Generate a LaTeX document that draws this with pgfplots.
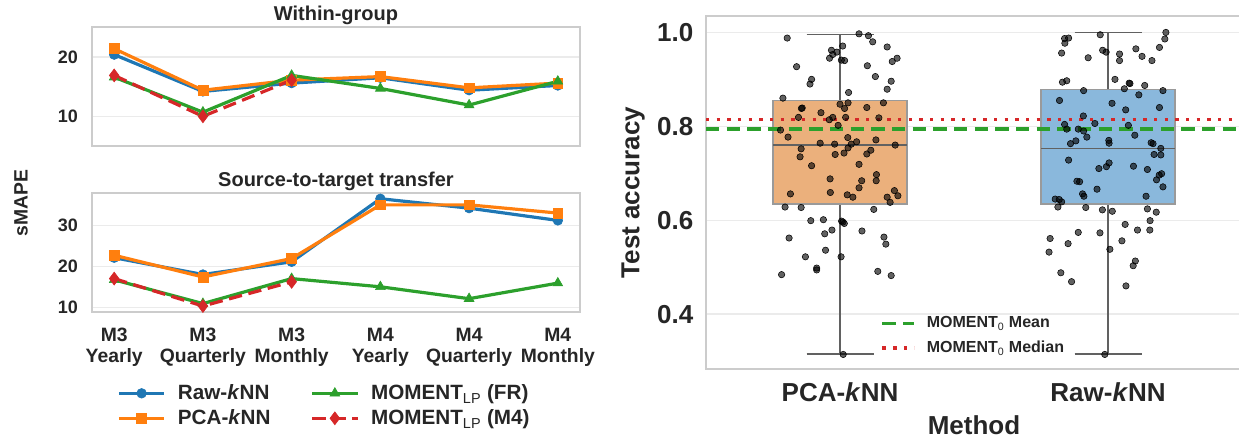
\documentclass[border=0pt]{standalone}
\usepackage{fontspec}
\setmainfont{Liberation Sans}
\usepackage{pgfplots}
\pgfplotsset{compat=1.18}
\usepgfplotslibrary{statistics}
\definecolor{tblue}{HTML}{1F77B4}
\definecolor{torange}{HTML}{FF7F0E}
\definecolor{tgreen}{HTML}{2CA02C}
\definecolor{tred}{HTML}{D62728}
\definecolor{txt}{HTML}{262626}
\definecolor{spine}{HTML}{CCCCCC}
\definecolor{gridc}{HTML}{EBEBEB}
\definecolor{boxor}{HTML}{EBB07C}
\definecolor{boxbl}{HTML}{8AB8DC}
\definecolor{boxedge}{HTML}{9A9A9A}
\definecolor{whisk}{HTML}{616161}
\pgfplotsset{
  myaxis/.style={
    scale only axis,
    axis line style={spine, line width=1.5pt},
    major tick length=0pt,
    tick style={draw=none},
    ymajorgrids,
    grid style={gridc, line width=0.9pt},
    /pgf/number format/assume math mode=true,
    tick label style={text=txt},
    scaled y ticks=false,
  },
  leftax/.style={
    myaxis,
    width=366pt, height=89.25pt,
    xmin=-0.25, xmax=5.25,
    xtick={0,...,5},
    yticklabel style={font=\bfseries\fontsize{13.5}{16}\selectfont, xshift=-7pt},
    every axis title/.style={at={(0.5,1)}, anchor=base, yshift=5pt, font=\bfseries\fontsize{15}{18}\selectfont, text=txt},
  },
  rawst/.style={tblue, line width=2.4pt, mark=*, mark size=3.6pt, mark options={solid, fill=tblue, draw=tblue, line width=0.5pt}},
  pcast/.style={torange, line width=2.4pt, mark=square*, mark size=3.7pt, mark options={solid, fill=torange, draw=torange, line width=0.5pt}},
  frst/.style={tgreen, line width=2.4pt, mark=triangle*, mark size=4.2pt, mark options={solid, fill=tgreen, draw=tgreen, line width=0.5pt}},
  m4st/.style={tred, line width=2.4pt, dash pattern=on 10pt off 5pt, mark=diamond*, mark size=4.8pt, mark options={solid, fill=tred, draw=tred, line width=0.5pt}},
}
\begin{document}
\begin{tikzpicture}
% ---------------- top-left: Within-group
\begin{axis}[leftax, at={(69pt,219pt)}, anchor=south west,
  ymin=5, ymax=25.06, ytick={10,20}, xticklabels={},
  title={Within-group}]
\addplot[rawst] coordinates {(0,20.4) (1,14.2) (2,15.6) (3,16.5) (4,14.4) (5,15.2)};
\addplot[pcast] coordinates {(0,21.4) (1,14.4) (2,16.1) (3,16.7) (4,14.8) (5,15.6)};
\addplot[frst] coordinates {(0,16.6) (1,10.7) (2,16.9) (3,14.7) (4,11.9) (5,15.9)};
\addplot[m4st] coordinates {(0,16.9) (1,10.0) (2,16.1)};
\end{axis}
% ---------------- bottom-left: Source-to-target transfer
\begin{axis}[leftax, at={(69pt,94.5pt)}, anchor=south west,
  ymin=8.85, ymax=37.9, ytick={10,20,30},
  xticklabels={{M3\\Yearly},{M3\\Quarterly},{M3\\Monthly},{M4\\Yearly},{M4\\Quarterly},{M4\\Monthly}},
  xticklabel style={align=center, font=\bfseries\fontsize{14.5}{15.5}\selectfont, yshift=-8.5pt},
  title={Source-to-target transfer},
  legend columns=2, transpose legend,
  legend style={at={(0.477,-0.565)}, anchor=north, draw=none, fill=none,
    font=\bfseries\fontsize{15.5}{18}\selectfont, text=txt,
    /tikz/every even column/.append style={column sep=28pt}, row sep=2pt, cells={anchor=west}},
  legend image code/.code={\draw[mark repeat=2,mark phase=2,#1] plot coordinates {(0pt,0pt) (17pt,0pt) (34pt,0pt)}; \path (41pt,0pt);},
  ]
\addplot[rawst] coordinates {(0,22.1) (1,18.0) (2,21.1) (3,36.5) (4,34.2) (5,31.2)};
\addlegendentry{Raw-\textit{k}NN}
\addplot[pcast] coordinates {(0,22.7) (1,17.4) (2,21.9) (3,35.0) (4,35.0) (5,33.0)};
\addlegendentry{PCA-\textit{k}NN}
\addplot[frst] coordinates {(0,16.7) (1,10.9) (2,17.0) (3,15.0) (4,12.1) (5,15.9)};
\addlegendentry{MOMENT\textsubscript{\mdseries LP} (FR)}
\addplot[m4st] coordinates {(0,17.0) (1,10.3) (2,16.2)};
\addlegendentry{MOMENT\textsubscript{\mdseries LP} (M4)}
\end{axis}
\node[rotate=90, font=\bfseries\fontsize{14.5}{17}\selectfont, text=txt] at (15.75pt,176.25pt) {sMAPE};
% ---------------- right: box plots
\begin{axis}[myaxis, at={(529.5pt,51.75pt)}, anchor=south west, width=402pt, height=264.75pt,
  xmin=-0.5, xmax=1.5, ymin=0.283, ymax=1.035,
  xtick={0,1}, xticklabels={PCA-\textit{k}NN, Raw-\textit{k}NN},
  ytick={0.4,0.6,0.8,1.0},
  yticklabel style={font=\bfseries\fontsize{19.5}{22}\selectfont, xshift=-6pt,
    /pgf/number format/fixed, /pgf/number format/fixed zerofill, /pgf/number format/precision=1},
  xticklabel style={font=\bfseries\fontsize{19.5}{22}\selectfont, yshift=-7pt},
  xlabel={Method}, ylabel={Test accuracy},
  every axis x label/.style={at={(0.5,0)}, anchor=base, yshift=-49.5pt, font=\bfseries\fontsize{19.5}{22}\selectfont, text=txt},
  every axis y label/.style={at={(0,0.5)}, xshift=-54.75pt, rotate=90, anchor=center, font=\bfseries\fontsize{19.5}{22}\selectfont, text=txt},
  legend style={at={(0.318,0.094)}, anchor=west, draw=none, fill=none,
    font=\bfseries\fontsize{12}{14}\selectfont, text=txt, row sep=4.5pt, cells={anchor=west}},
  legend image code/.code={\draw[#1] (0pt,0pt) -- (24pt,0pt); \path (30pt,0pt);},
  boxplot/draw direction=y,
  boxplot/every box/.style={draw=boxedge, line width=1.1pt},
  boxplot/every whisker/.style={draw=whisk, line width=1.1pt},
  boxplot/every median/.style={draw=whisk, line width=1.1pt},
  ]
\addplot[forget plot, fill=boxor, draw=boxedge,
  boxplot prepared={draw position=0, box extend=0.5, whisker extend=0.25,
    median=0.760, upper quartile=0.855, lower quartile=0.634,
    upper whisker=0.996, lower whisker=0.315}] coordinates {};
\addplot[forget plot, fill=boxbl, draw=boxedge,
  boxplot prepared={draw position=1, box extend=0.5, whisker extend=0.25,
    median=0.753, upper quartile=0.878, lower quartile=0.634,
    upper whisker=1.000, lower whisker=0.315}] coordinates {};
% PCA-kNN points
\addplot[forget plot, only marks, mark=*, mark size=2.4pt, mark options={draw=none, fill=black, fill opacity=0.62}] coordinates {
(-0.197,0.988) (0.071,0.997) (0.106,0.993) (0.122,0.980) (0.176,0.969) (0.010,0.971) (-0.032,0.962) (-0.012,0.958)
(-0.027,0.953) (-0.039,0.945) (0.005,0.941) (0.017,0.940) (-0.162,0.927) (0.102,0.929) (0.195,0.938) (0.213,0.945)
(-0.106,0.900) (-0.112,0.890) (0.132,0.906) (0.191,0.896) (0.176,0.879) (0.032,0.872) (-0.213,0.860) (0.000,0.847)
(0.030,0.850) (0.017,0.838) (-0.141,0.839) (-0.144,0.838) (0.100,0.840) (0.162,0.850) (-0.071,0.829) (-0.155,0.819)
(-0.027,0.819) (-0.040,0.814) (0.021,0.819) (0.145,0.818) (-0.222,0.792) (-0.007,0.802) (-0.194,0.777) (0.029,0.776)
(0.062,0.767) (0.042,0.762) (0.134,0.771) (-0.074,0.764) (-0.020,0.762) (0.030,0.754) (0.206,0.760) (-0.145,0.752)
(-0.149,0.735) (-0.018,0.740) (0.015,0.743) (0.115,0.749) (0.100,0.741) (-0.106,0.716) (0.071,0.719) (0.136,0.697)
(0.135,0.684) (-0.037,0.688) (0.081,0.684) (0.071,0.669) (-0.185,0.656) (-0.036,0.659) (0.027,0.654) (0.048,0.649)
(0.203,0.663) (0.216,0.652) (0.176,0.649) (0.187,0.638) (-0.205,0.628) (-0.145,0.627) (0.126,0.623) (-0.109,0.599)
(-0.062,0.601) (0.006,0.598) (0.011,0.596) (0.016,0.593) (-0.030,0.579) (-0.057,0.571) (0.082,0.577) (-0.190,0.562)
(0.164,0.564) (0.171,0.549) (-0.054,0.536) (-0.129,0.522) (0.004,0.522) (-0.087,0.498) (-0.087,0.494) (-0.218,0.484)
(0.141,0.491) (0.191,0.482) (0.012,0.314)
};
% Raw-kNN points
\addplot[forget plot, only marks, mark=*, mark size=2.4pt, mark options={draw=none, fill=black, fill opacity=0.62}] coordinates {
(0.838,0.987) (0.853,0.988) (0.839,0.977) (0.827,0.956) (0.971,0.995) (0.980,0.962) (0.993,0.958) (0.926,0.946)
(1.043,0.954) (1.043,0.940) (1.104,0.965) (1.127,0.949) (1.164,0.940) (1.192,0.968) (1.212,0.986) (1.216,1.000)
(0.830,0.894) (0.846,0.897) (1.026,0.900) (1.079,0.892) (1.082,0.891) (1.061,0.880) (1.137,0.887) (0.909,0.876)
(1.205,0.876) (1.115,0.867) (0.819,0.855) (1.015,0.849) (1.066,0.835) (1.192,0.840) (0.908,0.822) (0.838,0.804)
(0.951,0.806) (1.076,0.802) (0.846,0.794) (0.889,0.794) (0.909,0.790) (0.921,0.777) (1.100,0.781) (0.880,0.769)
(0.860,0.763) (1.003,0.770) (1.004,0.764) (1.161,0.765) (1.168,0.763) (1.197,0.753) (1.172,0.740) (1.197,0.739)
(0.853,0.728) (1.004,0.722) (0.994,0.714) (0.966,0.710) (1.095,0.715) (1.147,0.708) (1.200,0.699) (1.191,0.696)
(1.181,0.686) (1.205,0.671) (0.884,0.683) (0.894,0.682) (0.959,0.666) (0.905,0.656) (0.910,0.651) (1.142,0.651)
(0.803,0.645) (0.818,0.644) (0.827,0.639) (0.813,0.628) (0.917,0.627) (0.979,0.622) (1.016,0.619) (1.147,0.624)
(1.180,0.617) (1.157,0.599) (1.064,0.591) (1.110,0.579) (1.156,0.579) (0.784,0.561) (0.889,0.574) (0.970,0.573)
(0.851,0.550) (1.052,0.556) (0.780,0.532) (1.007,0.538) (1.102,0.513) (1.094,0.503) (0.824,0.488) (0.864,0.469)
(1.067,0.460) (0.988,0.314)
};
\addplot[tgreen, line width=2.6pt, dash pattern=on 10pt off 5.5pt] coordinates {(-0.5,0.794) (1.5,0.794)};
\addlegendentry{MOMENT\textsubscript{\mdseries 0} Mean}
\addplot[tred, line width=2.6pt, dash pattern=on 2.6pt off 5.4pt] coordinates {(-0.5,0.815) (1.5,0.815)};
\addlegendentry{MOMENT\textsubscript{\mdseries 0} Median}
\end{axis}
\pgfresetboundingbox
\useasboundingbox (0pt,0pt) rectangle (929.25pt,328.5pt);
\end{tikzpicture}
\end{document}
